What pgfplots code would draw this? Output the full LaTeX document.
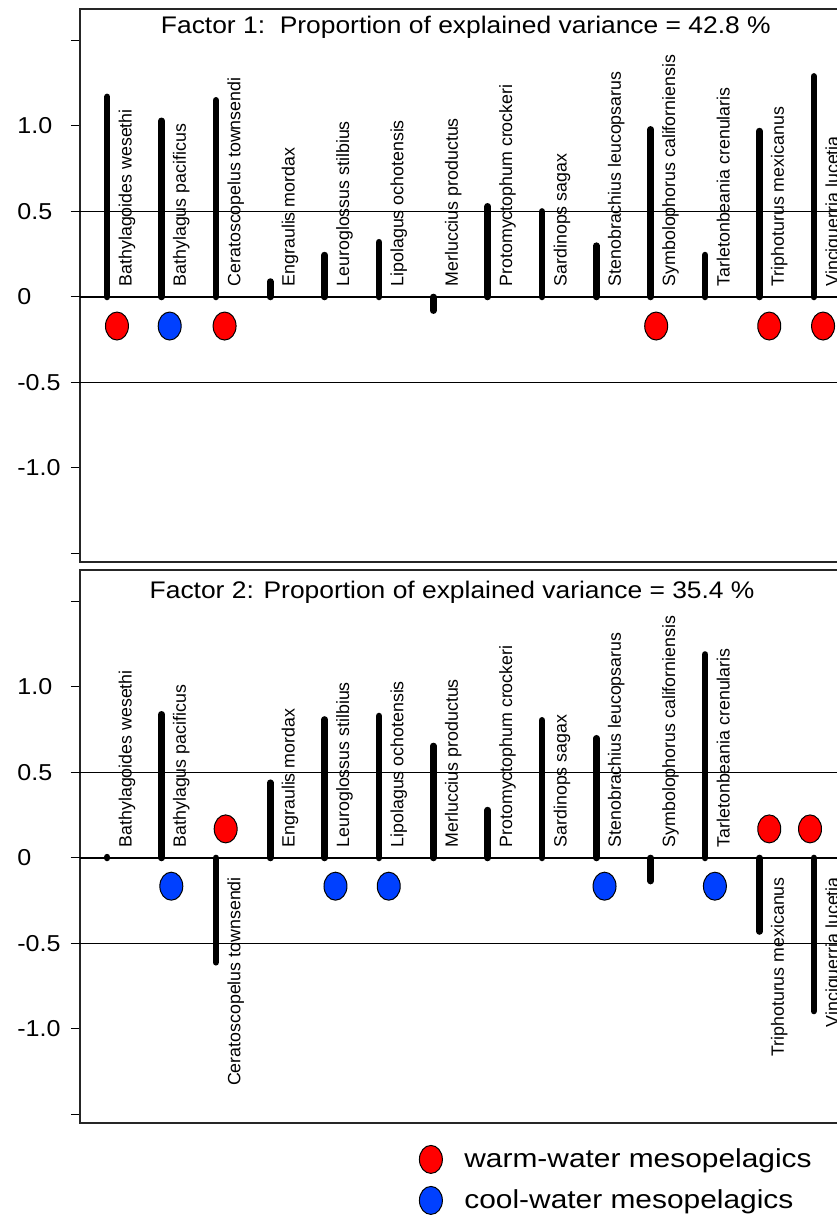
\documentclass[border=0pt]{standalone}
\usepackage{pgfplots}
\pgfplotsset{compat=1.18}
\usepackage{pgfplotstable}
\usepackage{graphicx}
\usepackage{fontspec}
\setmainfont{Liberation Sans}
\definecolor{warm}{RGB}{255,0,0}
\definecolor{cool}{RGB}{0,64,255}
\newcommand\tl[1]{\scalebox{1.09}[1]{#1}}

\pgfplotstableread{
x f1 f2
1 1.17 0.005
2 1.03 0.84
3 1.15 -0.61
4 0.09 0.44
5 0.245 0.81
6 0.32 0.83
7 -0.08 0.655
8 0.53 0.28
9 0.50 0.805
10 0.30 0.70
11 0.98 -0.135
12 0.245 1.19
13 0.97 -0.43
14 1.29 -0.895
}\loadings

\pgfplotsset{
  panel/.style={
    scale only axis, width=380.5pt, height=276.5pt,
    xmin=0.5, xmax=14.5, ymin=-1.55, ymax=1.684,
    xtick=\empty,
    ytick={-1.5,-1,-0.5,0,0.5,1,1.5},
    yticklabels={,\tl{-1.0},\tl{-0.5},\tl{0},\tl{0.5},\tl{1.0},},
    yticklabel style={font=\fontsize{11.5}{12}\selectfont, anchor=west, inner sep=0pt, xshift=-27pt},
    tick align=outside, major tick length=4.5pt,
    tick style={black, line width=0.5pt},
    ytick pos=left,
    axis line style={black!85, line width=1pt},
    extra y ticks={-0.5,0,0.5}, extra y tick labels={},
    extra y tick style={ymajorgrids=true, major grid style={black, line width=0.55pt}},
  },
  bars/.style={ycomb, black, line width=3.3pt, line cap=round, mark=none, forget plot},
  dots/.style={only marks, mark=*, mark size=7pt, mark options={xscale=0.82, fill=#1, draw=black, line width=0.5pt}},
}
\tikzset{lab/.style={rotate=90, inner sep=0pt, font=\fontsize{8.9}{10}\selectfont}}
\newcommand\up[2]{\node[lab, anchor=base west] at (axis cs:#1,0.06) {#2};}
\newcommand\dn[2]{\node[lab, anchor=base east] at (axis cs:#1,-0.11) {#2};}

\begin{document}
\begin{tikzpicture}
\begin{axis}[panel, name=p1, at={(0pt,0pt)}, anchor=north west]
\addplot[bars] table[x=x, y=f1] {\loadings};
\addplot[dots=warm, forget plot] coordinates {(1.18,-0.17) (3.16,-0.17) (11.1,-0.17) (13.18,-0.17) (14.17,-0.17)};
\addplot[dots=cool, forget plot] coordinates {(2.15,-0.17)};
\node[anchor=base, font=\fontsize{12}{14}\selectfont] at (rel axis cs:0.507,0.955) {\scalebox{1.1}[1]{Factor 1:\ \ Proportion of explained variance = 42.8 \%}};
\up{1.45}{Bathylagoides wesethi}
\up{2.45}{Bathylagus pacificus}
\up{3.45}{Ceratoscopelus townsendi}
\up{4.45}{Engraulis mordax}
\up{5.45}{Leuroglossus stilbius}
\up{6.45}{Lipolagus ochotensis}
\up{7.45}{Merluccius productus}
\up{8.45}{Protomyctophum crockeri}
\up{9.45}{Sardinops sagax}
\up{10.45}{Stenobrachius leucopsarus}
\up{11.45}{Symbolophorus californiensis}
\up{12.45}{Tarletonbeania crenularis}
\up{13.45}{Triphoturus mexicanus}
\up{14.45}{Vinciguerria lucetia}
\end{axis}
\begin{axis}[panel, name=p2, at={(0pt,-280.5pt)}, anchor=north west,
  legend style={at={(0.4455,-0.0398)}, anchor=north west, draw=none, fill=none,
    inner sep=0pt, row sep=6.5pt, column sep=11pt,
    font=\fontsize{13}{15}\selectfont, nodes={inner sep=0pt}},
  legend cell align=left,
  legend image code/.code={\draw[#1] plot coordinates {(0pt,0pt)};}]
\addplot[bars] table[x=x, y=f2] {\loadings};
\addplot[dots=warm] coordinates {(3.18,0.17) (13.18,0.17) (13.93,0.17)};
\addlegendentry{\scalebox{1.15}[1]{warm-water mesopelagics}}
\addplot[dots=cool] coordinates {(2.18,-0.165) (5.2,-0.165) (6.18,-0.165) (10.15,-0.165) (12.18,-0.165)};
\addlegendentry{\scalebox{1.15}[1]{cool-water mesopelagics}}
\node[anchor=base, font=\fontsize{12}{14}\selectfont] at (rel axis cs:0.489,0.9476) {\scalebox{1.1}[1]{Factor 2: Proportion of explained variance = 35.4 \%}};
\up{1.45}{Bathylagoides wesethi}
\up{2.45}{Bathylagus pacificus}
\dn{3.45}{Ceratoscopelus townsendi}
\up{4.45}{Engraulis mordax}
\up{5.45}{Leuroglossus stilbius}
\up{6.45}{Lipolagus ochotensis}
\up{7.45}{Merluccius productus}
\up{8.45}{Protomyctophum crockeri}
\up{9.45}{Sardinops sagax}
\up{10.45}{Stenobrachius leucopsarus}
\up{11.45}{Symbolophorus californiensis}
\up{12.45}{Tarletonbeania crenularis}
\dn{13.45}{Triphoturus mexicanus}
\dn{14.45}{Vinciguerria lucetia}
\end{axis}
\pgfresetboundingbox
\path[use as bounding box] (-40pt,4.5pt) rectangle (378pt,-603pt);
\end{tikzpicture}
\end{document}
